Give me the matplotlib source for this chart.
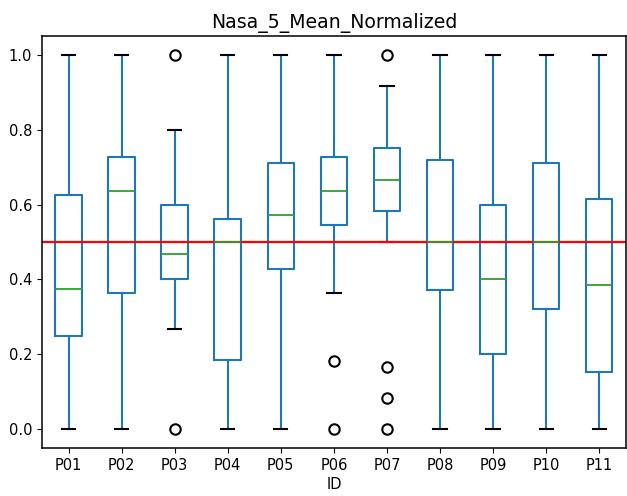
import matplotlib
matplotlib.use("Agg")
import matplotlib.pyplot as plt

# box statistics
ids = ["P01", "P02", "P03", "P04", "P05", "P06", "P07", "P08", "P09", "P10", "P11"]
whislo = [0.0, 0.0, 0.267, 0.0, 0.0, 0.364, 0.5, 0.0, 0.0, 0.0, 0.0]
q1 = [0.25, 0.364, 0.4, 0.186, 0.429, 0.545, 0.583, 0.372, 0.2, 0.32, 0.153]
med = [0.375, 0.636, 0.467, 0.5, 0.571, 0.636, 0.667, 0.5, 0.4, 0.5, 0.385]
q3 = [0.625, 0.727, 0.6, 0.562, 0.712, 0.727, 0.75, 0.718, 0.6, 0.712, 0.615]
whishi = [1.0, 1.0, 0.8, 1.0, 1.0, 1.0, 0.917, 1.0, 1.0, 1.0, 1.0]
fliers = [[], [], [1.0, 0.0], [], [], [0.182, 0.0],
          [1.0, 0.167, 0.083, 0.0], [], [], [], []]

stats = []
for i in range(len(ids)):
    stats.append(dict(label=ids[i], whislo=whislo[i], q1=q1[i], med=med[i],
                      q3=q3[i], whishi=whishi[i], fliers=fliers[i]))

fig = plt.figure(figsize=(6.27, 4.96), dpi=100)
ax = fig.add_axes([0.067, 0.097, 0.931, 0.830])

blue = "#1f77b4"
ax.bxp(stats, widths=0.5, showfliers=True,
       boxprops=dict(color=blue, linewidth=1.5),
       whiskerprops=dict(color=blue, linewidth=1.5),
       capprops=dict(color="k", linewidth=1.5),
       medianprops=dict(color="#2ca02c", linewidth=1.3),
       flierprops=dict(marker="o", markerfacecolor="none",
                       markeredgecolor="k", markersize=7.5, markeredgewidth=1.5))

ax.axhline(0.5, color="red", linewidth=1.6)
ax.set_ylim(-0.05, 1.05)
ax.set_xlim(0.5, 11.5)
ax.set_yticks([0.0, 0.2, 0.4, 0.6, 0.8, 1.0])
ax.set_title("Nasa_5_Mean_Normalized", fontsize=13.6)
ax.set_xlabel("ID", fontsize=10.5, labelpad=3)
ax.tick_params(labelsize=10.5)
for s in ax.spines.values():
    s.set_linewidth(1.1)

fig.savefig("out.png", dpi=100, facecolor="white")
